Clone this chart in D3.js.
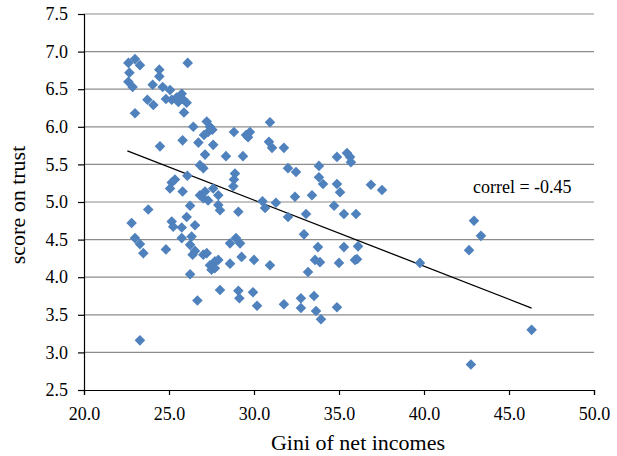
<!DOCTYPE html>
<html lang="en">
<head>
<meta charset="utf-8">
<title>Trust vs Gini</title>
<script src="https://d3js.org/d3.v7.min.js"></script>
<style>
  body { margin: 0; background: #fff; }
  svg text { font-family: "Liberation Serif", "Times New Roman", serif; fill: #000; }
</style>
</head>
<body>
<svg id="chart" width="617" height="456"></svg>
<script>
// Gini of net incomes (x) and score on trust (y)
var gini = [
  22.61, 23.00, 23.29, 22.67, 22.61, 22.86, 23.00, 24.43, 24.43, 24.04,
  24.63, 23.73, 24.08, 25.06, 24.82, 25.16, 25.45, 25.75, 25.55, 25.80,
  26.04, 25.88, 26.10, 26.43, 27.22, 27.41, 24.47, 25.80, 26.73, 27.30,
  27.06, 27.60, 27.12, 26.82, 27.02, 26.08, 25.35, 25.16, 25.06, 25.80,
  27.60, 27.90, 26.82, 27.12, 27.02, 27.30, 23.78, 26.24, 22.80, 25.16,
  25.25, 26.04, 26.53, 25.75, 23.00, 23.29, 23.49, 24.82, 25.75, 26.33,
  26.24, 26.53, 26.39, 27.22, 27.60, 27.50, 27.90, 26.24, 26.67, 23.29,
  28.00, 27.02, 27.70, 27.41, 27.70, 27.55, 28.82, 29.53, 29.76, 29.65,
  30.94, 30.88, 31.06, 31.76, 28.35, 29.35, 32.00, 32.47, 33.82, 33.82,
  34.06, 34.88, 35.47, 35.65, 35.70, 34.88, 35.06, 36.88, 37.53, 28.88,
  28.82, 28.78, 30.50, 30.65, 31.29, 32.41, 33.41, 34.71, 35.29, 36.00,
  33.06, 32.00, 27.90, 28.00, 29.08, 32.94, 33.76, 35.29, 36.12, 36.06,
  35.94, 33.59, 33.88, 35.00, 33.18, 30.00, 30.94, 39.76, 29.94, 30.18,
  31.76, 32.76, 32.76, 33.53, 33.65, 33.94, 34.88, 28.59, 28.94, 29.18,
  29.27, 28.59, 29.08, 29.14, 42.94, 43.35, 42.65, 46.33, 42.76
];
var trust = [
  6.85, 6.90, 6.82, 6.72, 6.60, 6.53, 6.18, 6.76, 6.67, 6.56,
  6.53, 6.36, 6.29, 6.49, 6.37, 6.36, 6.39, 6.44, 6.33, 6.37,
  6.32, 6.19, 6.85, 6.00, 6.07, 6.00, 5.74, 5.82, 5.79, 5.93,
  5.89, 5.76, 5.63, 5.49, 5.45, 5.35, 5.30, 5.26, 5.18, 5.14,
  5.18, 5.09, 5.09, 5.14, 5.05, 5.02, 4.90, 4.95, 4.72, 4.74,
  4.67, 4.80, 4.69, 4.66, 4.52, 4.44, 4.32, 4.37, 4.52, 4.54,
  4.43, 4.35, 4.30, 4.32, 4.18, 4.10, 4.23, 4.04, 3.69, 3.16,
  3.83, 4.30, 4.21, 4.16, 4.12, 5.96, 5.93, 5.89, 5.93, 5.86,
  6.06, 5.80, 5.72, 5.72, 5.61, 5.61, 5.45, 5.40, 5.48, 5.33,
  5.24, 5.60, 5.65, 5.60, 5.53, 5.24, 5.13, 5.23, 5.16, 5.38,
  5.30, 5.21, 5.01, 4.92, 4.99, 5.07, 5.09, 4.95, 4.84, 4.84,
  4.84, 4.80, 4.96, 4.89, 4.87, 4.57, 4.40, 4.40, 4.41, 4.24,
  4.23, 4.23, 4.20, 4.19, 4.07, 4.23, 4.16, 4.19, 3.80, 3.62,
  3.64, 3.72, 3.59, 3.75, 3.55, 3.44, 3.60, 4.45, 4.52, 4.45,
  4.27, 4.18, 3.82, 3.72, 4.75, 4.55, 4.36, 3.30, 2.84
];
// linear trend line end points
var trendX = [22.55, 46.33];
var trendY = [5.68, 3.59];
var xTicks = [20, 25, 30, 35, 40, 45, 50];
var yTicks = [2.5, 3.0, 3.5, 4.0, 4.5, 5.0, 5.5, 6.0, 6.5, 7.0, 7.5];
var correlLabel = "correl = -0.45";

var margin = { top: 14, right: 23, bottom: 66, left: 84 },
    width = 617 - margin.left - margin.right,
    height = 456 - margin.top - margin.bottom;

var svg = d3.select("#chart")
  .append("g")
  .attr("transform", "translate(" + margin.left + "," + margin.top + ")");

var x = d3.scaleLinear().domain([20, 50]).range([0, width]);
var y = d3.scaleLinear().domain([2.5, 7.5]).range([height, 0]);

// horizontal gridlines
svg.selectAll(".grid")
  .data(yTicks.slice(1))
  .enter()
  .append("line")
  .attr("x1", 0)
  .attr("x2", width)
  .attr("y1", function (d) { return y(d); })
  .attr("y2", function (d) { return y(d); })
  .attr("stroke", "#8c8c8c")
  .attr("stroke-width", 1.2);

// axes
var xAxis = svg.append("g")
  .attr("transform", "translate(0," + height + ")")
  .call(d3.axisBottom(x).tickValues(xTicks).tickFormat(d3.format(".1f"))
    .tickSize(5).tickSizeOuter(5).tickPadding(12));
var yAxis = svg.append("g")
  .call(d3.axisLeft(y).tickValues(yTicks).tickFormat(d3.format(".1f"))
    .tickSize(6).tickSizeOuter(6).tickPadding(10));

[xAxis, yAxis].forEach(function (a) {
  a.selectAll("path, line").attr("stroke", "#000").attr("stroke-width", 1.2);
  a.selectAll("text").attr("font-size", 18)
    .attr("font-family", "Liberation Serif, Times New Roman, serif");
});

// trend line
svg.append("line")
  .attr("x1", x(trendX[0]))
  .attr("y1", y(trendY[0]))
  .attr("x2", x(trendX[1]))
  .attr("y2", y(trendY[1]))
  .attr("stroke", "#000")
  .attr("stroke-width", 1.3);

// diamond markers
var diamond = d3.symbol().type(d3.symbolSquare).size(56);
svg.selectAll(".pt")
  .data(d3.range(gini.length))
  .enter()
  .append("path")
  .attr("d", diamond)
  .attr("transform", function (i) {
    return "translate(" + x(gini[i]) + "," + y(trust[i]) + ") rotate(45)";
  })
  .attr("fill", "#4f81bd");

// annotation
svg.append("text")
  .attr("x", x(42.88))
  .attr("y", y(5.12))
  .attr("font-size", 18)
  .text(correlLabel);

// axis titles
svg.append("text")
  .attr("x", width / 2 + 19)
  .attr("y", height + 60)
  .attr("text-anchor", "middle")
  .attr("font-size", 22)
  .text("Gini of net incomes");

svg.append("text")
  .attr("transform", "translate(" + (-59) + "," + (height / 2 + 3) + ") rotate(-90)")
  .attr("text-anchor", "middle")
  .attr("font-size", 22)
  .text("score on trust");
</script>
</body>
</html>
